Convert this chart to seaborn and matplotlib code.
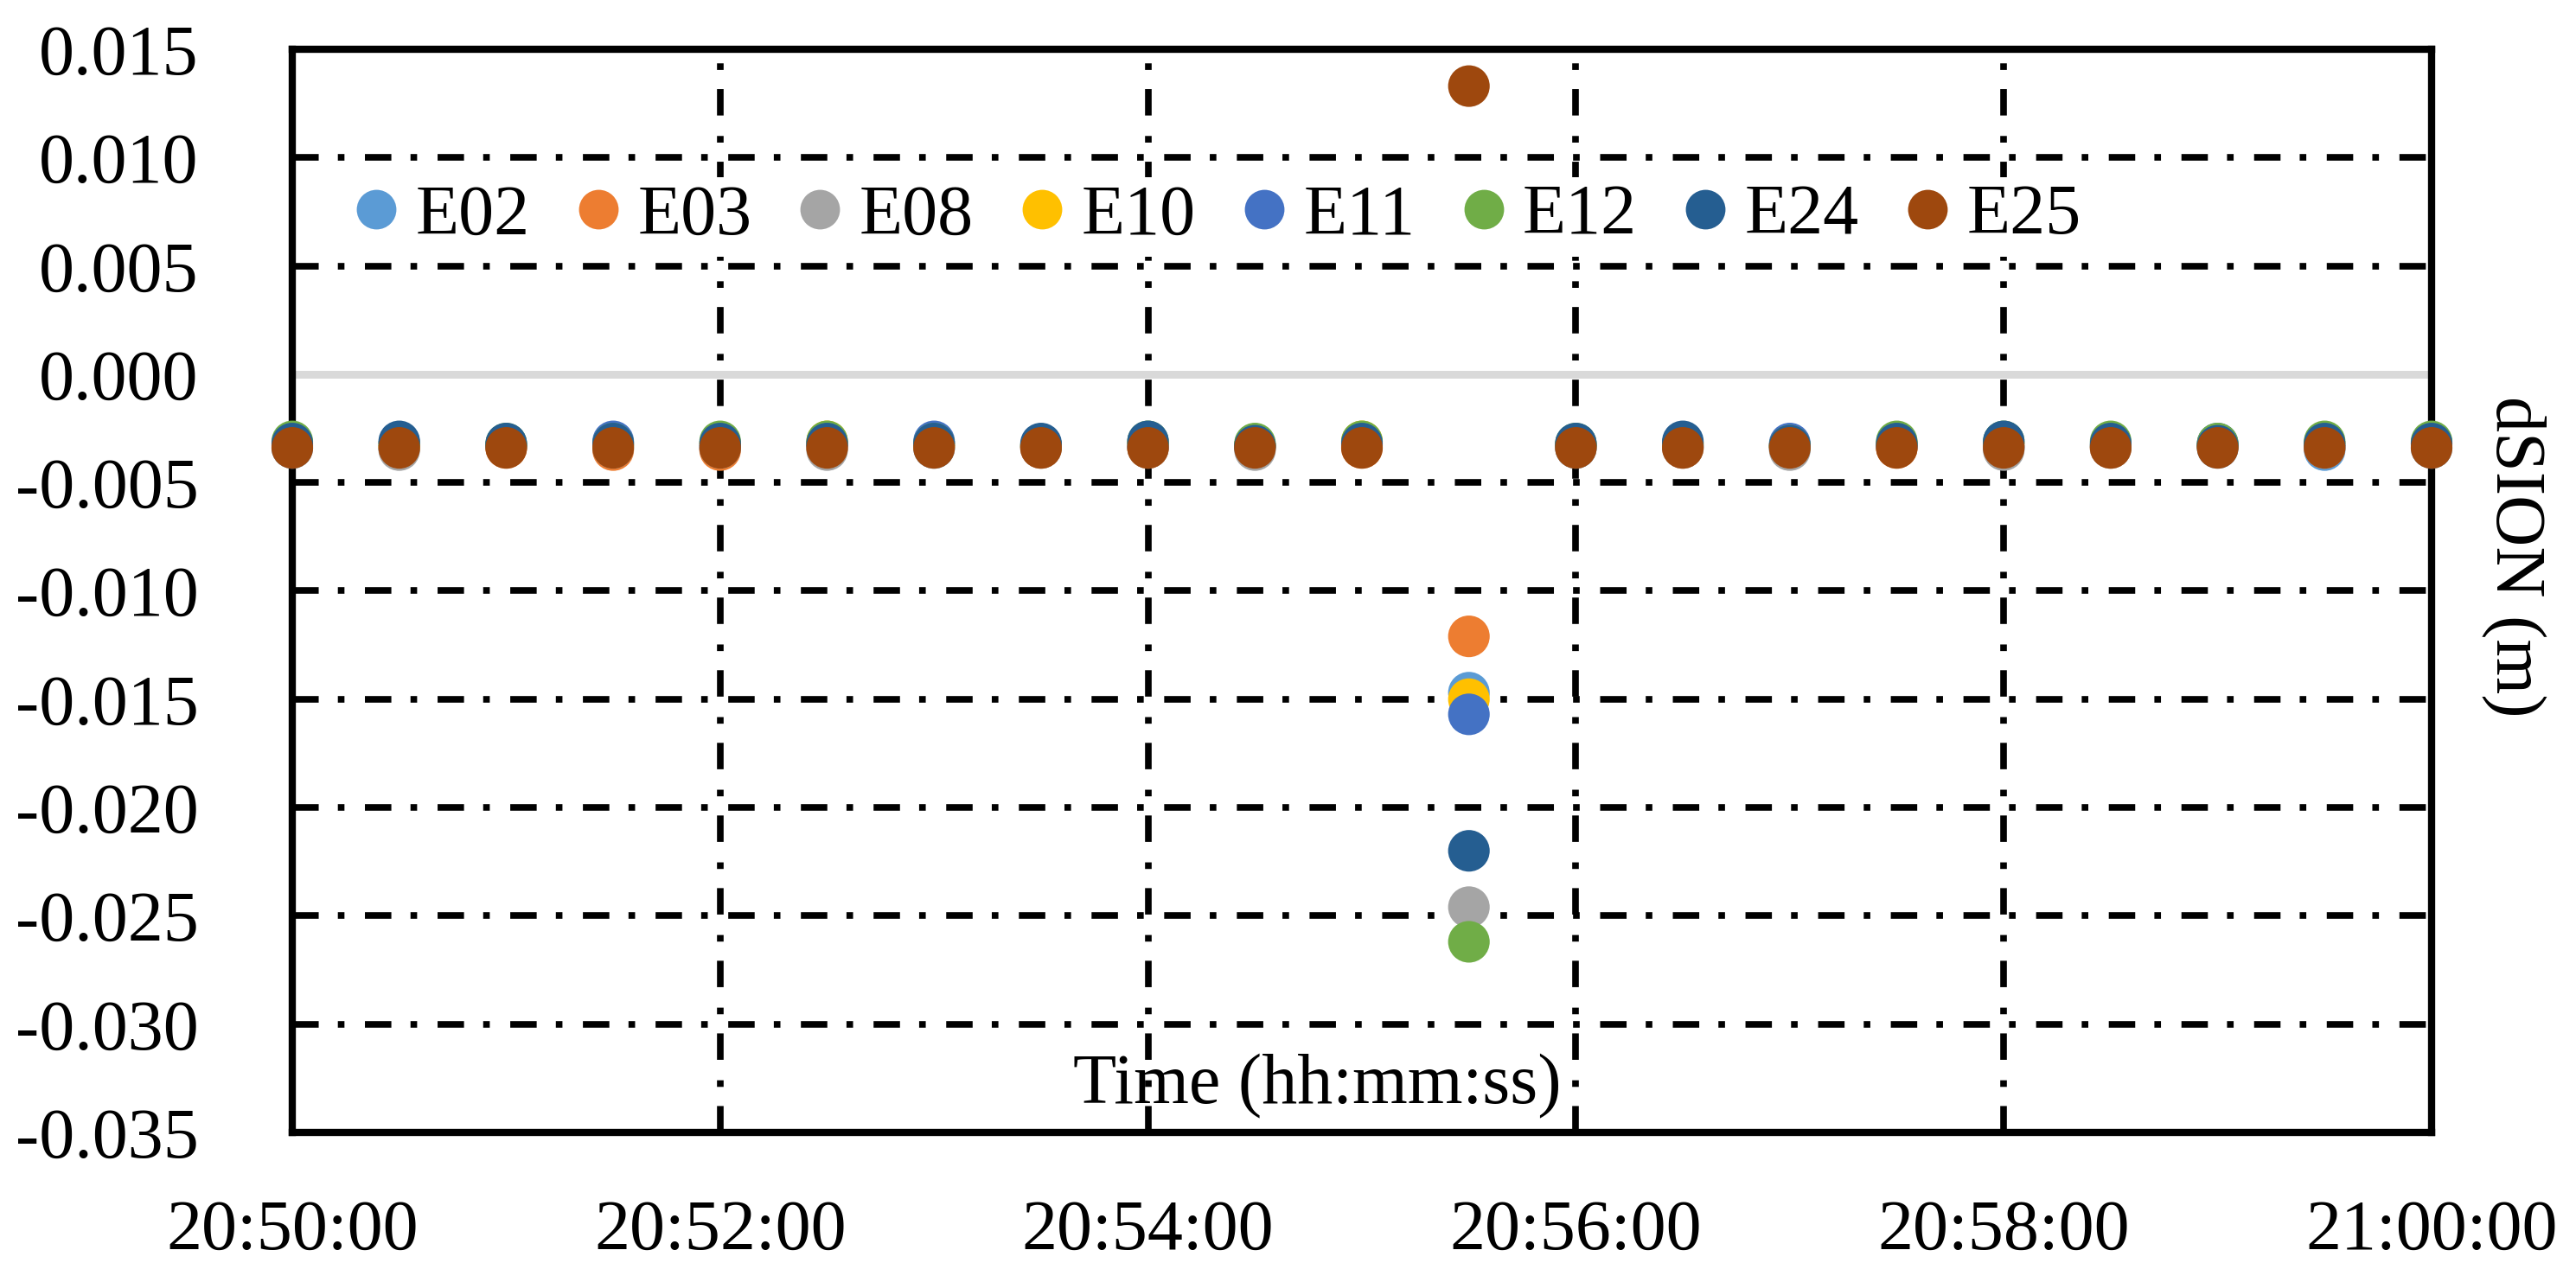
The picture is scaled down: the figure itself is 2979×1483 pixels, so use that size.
import numpy as np
import pandas as pd
import matplotlib
matplotlib.use("Agg")
import matplotlib.pyplot as plt
import matplotlib.dates as mdates
from matplotlib.lines import Line2D
from matplotlib.ticker import FuncFormatter, MultipleLocator
import seaborn as sns

# epochs every 30 s
times = ["20:50:00", "20:50:30", "20:51:00", "20:51:30", "20:52:00", "20:52:30",
         "20:53:00", "20:53:30", "20:54:00", "20:54:30", "20:55:00", "20:55:30",
         "20:56:00", "20:56:30", "20:57:00", "20:57:30", "20:58:00", "20:58:30",
         "20:59:00", "20:59:30", "21:00:00"]

satellites = ["E02", "E03", "E08", "E10", "E11", "E12", "E24", "E25"]
colors = ["#5B9BD5", "#ED7D31", "#A5A5A5", "#FFC000", "#4472C4", "#70AD47", "#255E91", "#9E480E"]

E02 = [-0.0034, -0.0034, -0.0033, -0.0033, -0.0034, -0.0033, -0.0034, -0.0034, -0.0033, -0.0034, -0.0033,
       -0.0147, -0.0034, -0.0033, -0.0034, -0.0033, -0.0034, -0.0033, -0.0034, -0.0035, -0.0034]
E03 = [-0.0033, -0.0034, -0.0034, -0.0035, -0.0035, -0.0034, -0.0033, -0.0034, -0.0034, -0.0033, -0.0034,
       -0.0121, -0.0033, -0.0034, -0.0033, -0.0034, -0.0033, -0.0034, -0.0033, -0.0034, -0.0033]
E08 = [-0.0034, -0.0035, -0.0033, -0.0034, -0.0034, -0.0035, -0.0034, -0.0033, -0.0034, -0.0035, -0.0033,
       -0.0246, -0.0034, -0.0034, -0.0035, -0.0033, -0.0035, -0.0034, -0.0033, -0.0034, -0.0034]
E10 = [-0.0032, -0.0033, -0.0033, -0.0033, -0.0032, -0.0031, -0.0033, -0.0033, -0.0032, -0.0033, -0.0031,
       -0.0150, -0.0033, -0.0032, -0.0033, -0.0032, -0.0032, -0.0033, -0.0033, -0.0032, -0.0032]
E11 = [-0.0033, -0.0032, -0.0033, -0.0031, -0.0033, -0.0032, -0.0031, -0.0033, -0.0033, -0.0033, -0.0032,
       -0.0157, -0.0033, -0.0033, -0.0032, -0.0033, -0.0033, -0.0033, -0.0032, -0.0033, -0.0032]
E12 = [-0.0031, -0.0032, -0.0032, -0.0032, -0.0031, -0.0031, -0.0032, -0.0033, -0.0031, -0.0032, -0.0031,
       -0.0262, -0.0032, -0.0032, -0.0033, -0.0031, -0.0031, -0.0031, -0.0032, -0.0031, -0.0031]
E24 = [-0.0032, -0.0031, -0.0032, -0.0032, -0.0032, -0.0032, -0.0032, -0.0032, -0.0031, -0.0033, -0.0032,
       -0.0220, -0.0032, -0.0031, -0.0033, -0.0032, -0.0031, -0.0032, -0.0033, -0.0032, -0.0032]
E25 = [-0.0034, -0.0034, -0.0034, -0.0034, -0.0034, -0.0034, -0.0034, -0.0034, -0.0034, -0.0034, -0.0034,
       0.0133, -0.0034, -0.0034, -0.0034, -0.0034, -0.0034, -0.0034, -0.0034, -0.0034, -0.0034]

series = [E02, E03, E08, E10, E11, E12, E24, E25]

# long table for seaborn
t = pd.to_datetime(["2000-01-01 " + s for s in times])
frames = []
for name, vals in zip(satellites, series):
    frames.append(pd.DataFrame({"time": t, "dSION": vals, "sat": name}))
df = pd.concat(frames, ignore_index=True)

sns.set_style("white")
plt.rcParams["font.family"] = ["Liberation Serif", "DejaVu Serif"]
for k in ["text.color", "axes.labelcolor", "xtick.color", "ytick.color"]:
    plt.rcParams[k] = "black"
FS = 59

fig, ax = plt.subplots(figsize=(29.79, 14.83), dpi=100)
fig.subplots_adjust(left=338 / 2979, right=2812 / 2979, bottom=1 - 1310 / 1483, top=1 - 57 / 1483)

ax.set_axisbelow(True)
ax.grid(True, color="black", linewidth=5.5, linestyle=(0, (4, 2.9, 1, 3.1)))
# Excel-style horizontal axis line at zero
ax.axhline(0, color="#D9D9D9", linewidth=6.5, zorder=1.5)

sns.scatterplot(data=df, x="time", y="dSION", hue="sat", hue_order=satellites,
                palette=colors, s=1200, linewidth=0, legend=False, ax=ax,
                zorder=3, clip_on=False)

ax.set_xlim(pd.Timestamp("2000-01-01 20:50:00"), pd.Timestamp("2000-01-01 21:00:00"))
ax.set_ylim(-0.035, 0.015)
ax.yaxis.set_major_locator(MultipleLocator(0.005))
ax.yaxis.set_major_formatter(FuncFormatter(lambda v, p: f"{v:.3f}"))
ax.xaxis.set_major_locator(mdates.MinuteLocator(byminute=range(0, 60, 2)))
ax.xaxis.set_major_formatter(mdates.DateFormatter("%H:%M:%S"))
ax.tick_params(axis="both", length=0, labelsize=FS, colors="black")
ax.tick_params(axis="y", pad=78)
ax.tick_params(axis="x", pad=56)
ax.set_xlabel("")
ax.set_ylabel("")

for sp in ax.spines.values():
    sp.set_color("black")
    sp.set_linewidth(6)
    sp.set_visible(True)

ax.text(0.479, 0.027, "Time (hh:mm:ss)", transform=ax.transAxes, ha="center", va="baseline", fontsize=FS)
ax.text(1.038, 0.532, "dSION (m)", transform=ax.transAxes, ha="center", va="center",
        rotation=270, fontsize=FS)

handles = [Line2D([], [], marker="o", linestyle="", markersize=33, markerfacecolor=c,
                  markeredgewidth=0) for c in colors]
leg = ax.legend(handles, satellites, loc="center left", bbox_to_anchor=(0.0265, 0.8455), ncol=8,
                fontsize=FS, frameon=True, handlelength=0.57, handletextpad=0.27,
                columnspacing=0.68, borderpad=0.1, borderaxespad=0, fancybox=False)
leg.get_frame().set_facecolor("white")
leg.get_frame().set_edgecolor("none")
leg.get_frame().set_alpha(1)

plt.savefig("out.png", dpi=100)
